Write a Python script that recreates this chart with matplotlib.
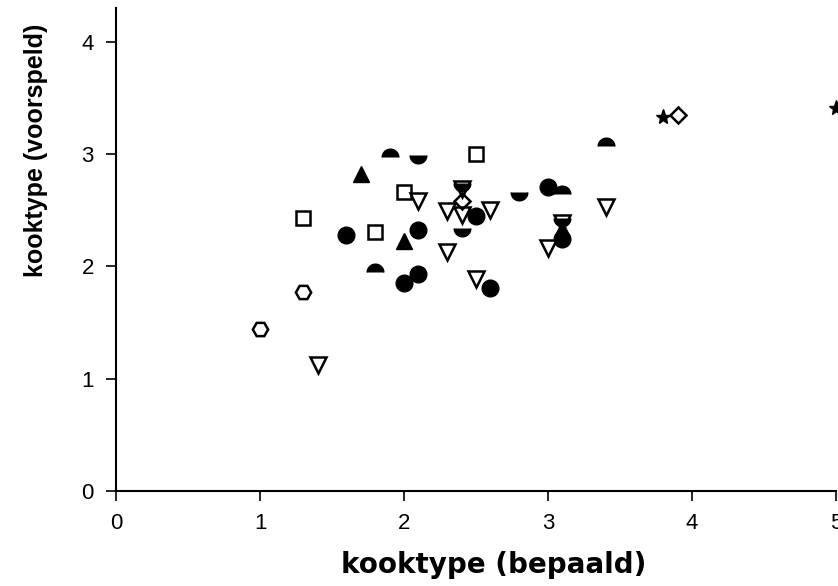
import numpy as np
import matplotlib
matplotlib.use('Agg')
import matplotlib.pyplot as plt
from matplotlib.path import Path

# measured (x) vs predicted (y) cooking type, grouped by marker symbol
circle_x = [1.6, 2.1, 2.0, 2.1, 2.5, 2.6, 3.0, 3.1]
circle_y = [2.28, 2.32, 1.85, 1.93, 2.45, 1.81, 2.71, 2.24]

top_half_x = [1.9, 1.8, 3.1, 3.4]
top_half_y = [2.97, 1.95, 2.64, 3.07]

bottom_half_x = [2.1, 2.4, 2.4, 2.8, 3.1]
bottom_half_y = [2.99, 2.74, 2.34, 2.66, 2.43]

tri_up_x = [1.7, 2.0, 3.1]
tri_up_y = [2.82, 2.23, 2.33]

square_x = [1.3, 1.8, 2.0, 2.5]
square_y = [2.43, 2.31, 2.66, 3.0]

tri_down_x = [1.4, 2.1, 2.3, 2.4, 2.6, 2.3, 2.5, 3.0, 3.4, 2.4, 3.1]
tri_down_y = [1.12, 2.58, 2.49, 2.46, 2.50, 2.13, 1.89, 2.16, 2.53, 2.69, 2.39]

diamond_x = [2.4, 3.9]
diamond_y = [2.58, 3.35]

hex_x = [1.0, 1.3]
hex_y = [1.44, 1.77]

star_x = [3.8, 5.0]
star_y = [3.33, 3.41]

xticks = [0, 1, 2, 3, 4, 5]
yticks = [0, 1, 2, 3, 4]

# half-disc markers, centred on the flat edge
t = np.linspace(0, np.pi, 40)
top_half = Path(np.column_stack([np.cos(t), np.sin(t)]))
bottom_half = Path(np.column_stack([np.cos(t), -np.sin(t)]))

fig = plt.figure(figsize=(8.38, 5.86), dpi=100)
ax = fig.add_axes([116 / 838, (586 - 491) / 586, 720 / 838, (491 - 8) / 586])

mk = dict(linestyle='none', clip_on=False)
open_kw = dict(mfc='white', mec='black', mew=1.8, **mk)
ax.plot(circle_x, circle_y, 'o', ms=12, color='black', **mk)
ax.plot(top_half_x, top_half_y, marker=top_half, ms=12, color='black', **mk)
ax.plot(bottom_half_x, bottom_half_y, marker=bottom_half, ms=12, color='black', **mk)
ax.plot(tri_up_x, tri_up_y, '^', ms=11, color='black', **mk)
ax.plot(square_x, square_y, 's', ms=10.5, **open_kw)
ax.plot(diamond_x, diamond_y, 'D', ms=8, **open_kw)
ax.plot(hex_x, hex_y, 'H', ms=11, **open_kw)
ax.plot(star_x, star_y, '*', ms=11, color='black', **mk)
# open triangles with transparent face so overlaps show through
ax.plot(tri_down_x, tri_down_y, 'v', ms=11, mfc='none', mec='black', mew=1.8, **mk)

ax.set_xlim(0, 5)
ax.set_ylim(0, 4.3)
ax.set_xticks(xticks)
ax.set_yticks(yticks)
ax.spines['top'].set_visible(False)
ax.spines['right'].set_visible(False)
ax.spines['left'].set_linewidth(1.5)
ax.spines['bottom'].set_linewidth(1.5)
ax.tick_params(direction='out', length=7, width=1.2, labelsize=16, pad=9)
for lab in ax.get_xticklabels() + ax.get_yticklabels():
    lab.set_family('Liberation Sans')

ax.set_xlabel('kooktype (bepaald)', fontsize=20, fontweight='bold',
              family='DejaVu Sans')
ax.set_ylabel('kooktype (voorspeld)', fontsize=18, fontweight='bold',
              family='Liberation Sans')
ax.xaxis.set_label_coords(0.524, -0.125)
ax.yaxis.set_label_coords(-0.094, 0.706)

fig.savefig('out.png', dpi=100)
